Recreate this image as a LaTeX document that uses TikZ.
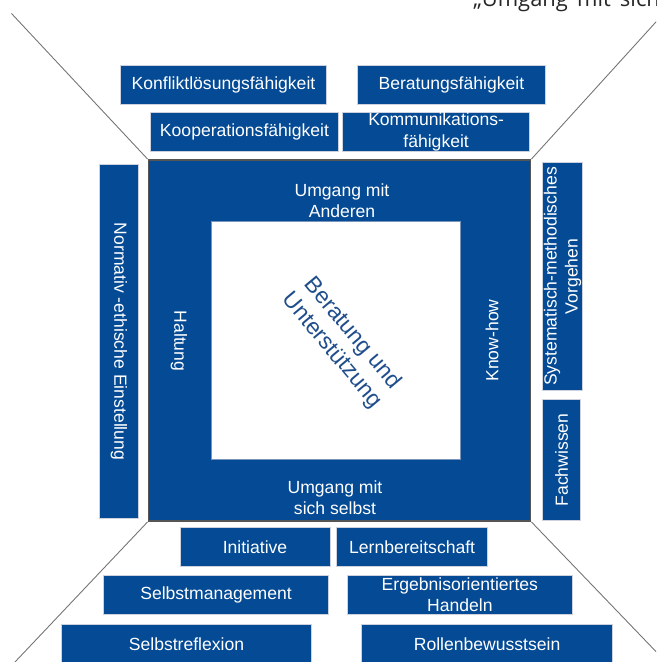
\documentclass[tikz,border=0pt]{standalone}
\usepackage{fontspec}
\setmainfont{Liberation Sans}
\newfontfamily\quotefont[WordSpace=1.6]{Open Sans}
\usetikzlibrary{positioning}
\definecolor{kompblue}{RGB}{4,74,148}
\definecolor{kerntext}{RGB}{32,78,140}
\definecolor{rimgray}{RGB}{85,85,85}
\definecolor{linegray}{RGB}{115,115,115}
\definecolor{edgegray}{RGB}{205,210,222}

\begin{document}
\begin{tikzpicture}[
        box/.style={draw=edgegray, line width=0.5pt, fill=kompblue, text=white,
            inner sep=0pt, align=center, minimum height=0.78cm,
            font=\fontsize{10}{12}\selectfont},
        ringtext/.style={text=white, align=center, font=\fontsize{10}{12}\selectfont},
        diag/.style={draw=linegray, line width=0.5pt},
    ]
        \useasboundingbox (0,0) rectangle (13.12,13.24);
        \clip (0,0) rectangle (13.12,13.24);

        % Corner lines
        \coordinate (tl) at (0.23,12.97);
        \coordinate (tr) at (13.40,13.11);
        \coordinate (bl) at (0.30,0);
        \coordinate (br) at (13.32,0);

        % Square in the middle
        \node[draw=rimgray, line width=1.1pt, fill=kompblue, minimum width=7.64cm, minimum height=7.22cm] (ring) at (6.79,6.43) {};
        \node[draw=kerntext!60, line width=0.6pt, fill=white, minimum width=4.98cm, minimum height=4.76cm] (core) at (6.72,6.43) {};

        \draw[diag] (ring.north west) -- (tl);
        \draw[diag] (ring.north east) -- (tr);
        \draw[diag] (ring.south west) -- (bl);
        \draw[diag] (ring.south east) -- (br);

        \node[ringtext] (anderen) at (6.84,9.23) {Umgang mit\\Anderen};
        \node[ringtext] (selbst) at (6.70,3.29) {Umgang mit\\sich selbst};
        \node[ringtext, rotate=-90] (haltung) at (3.58,6.42) {Haltung};
        \node[ringtext, rotate=90] (knowhow) at (9.84,6.43) {Know-how};
        \node[text=kerntext, align=center, rotate=-50, font=\fontsize{13}{15}\selectfont] (kernlabel) at (6.84,6.40) {Beratung und\\Unterstützung};

        % Upper boxes
        \node[box, minimum width=4.11cm] (konflikt) at (4.47,11.55) {Konfliktlösungsfähigkeit};
        \node[box, minimum width=3.75cm, right=0.61cm of konflikt] (beratung) {Beratungsfähigkeit};
        \node[box, minimum width=3.76cm, minimum height=0.79cm] (kooperation) at (4.89,10.60) {Kooperationsfähigkeit};
        \node[box, minimum width=3.75cm, minimum height=0.79cm, right=0.06cm of kooperation] (kommunikation) {Kommunikations-\\fähigkeit};

        % Side boxes
        \node[box, rotate=-90, minimum width=7.07cm, minimum height=0.79cm] (normativ) at (2.38,6.41) {Normativ -ethische Einstellung};
        \node[box, rotate=90, minimum width=4.55cm, minimum height=0.80cm] (systematisch) at (11.25,7.71) {Systematisch-methodisches\\Vorgehen};
        \node[box, rotate=90, minimum width=2.43cm, minimum height=0.77cm] (fachwissen) at (11.23,4.04) {Fachwissen};

        % Lower boxes
        \node[box, minimum width=3.00cm] (initiative) at (5.10,2.30) {Initiative};
        \node[box, minimum width=3.01cm, right=0.12cm of initiative] (lernen) {Lernbereitschaft};
        \node[box, minimum width=4.51cm, minimum height=0.77cm] (management) at (4.32,1.34) {Selbstmanagement};
        \node[box, minimum width=4.51cm, minimum height=0.79cm, right=0.35cm of management] (ergebnis) {Ergebnisorientiertes\\Handeln};
        \node[box, minimum width=5.00cm] (reflexion) at (3.73,0.36) {Selbstreflexion};
        \node[box, minimum width=5.01cm, right=0.99cm of reflexion] (rollen) {Rollenbewusstsein};

        % Heading cut off at the top
        \node[anchor=base west, inner sep=0pt, text=black!85, font=\quotefont\fontsize{12.5}{14}\selectfont] (zitat) at (9.46,13.11) {„Umgang mit sich};
    \end{tikzpicture}
\end{document}
